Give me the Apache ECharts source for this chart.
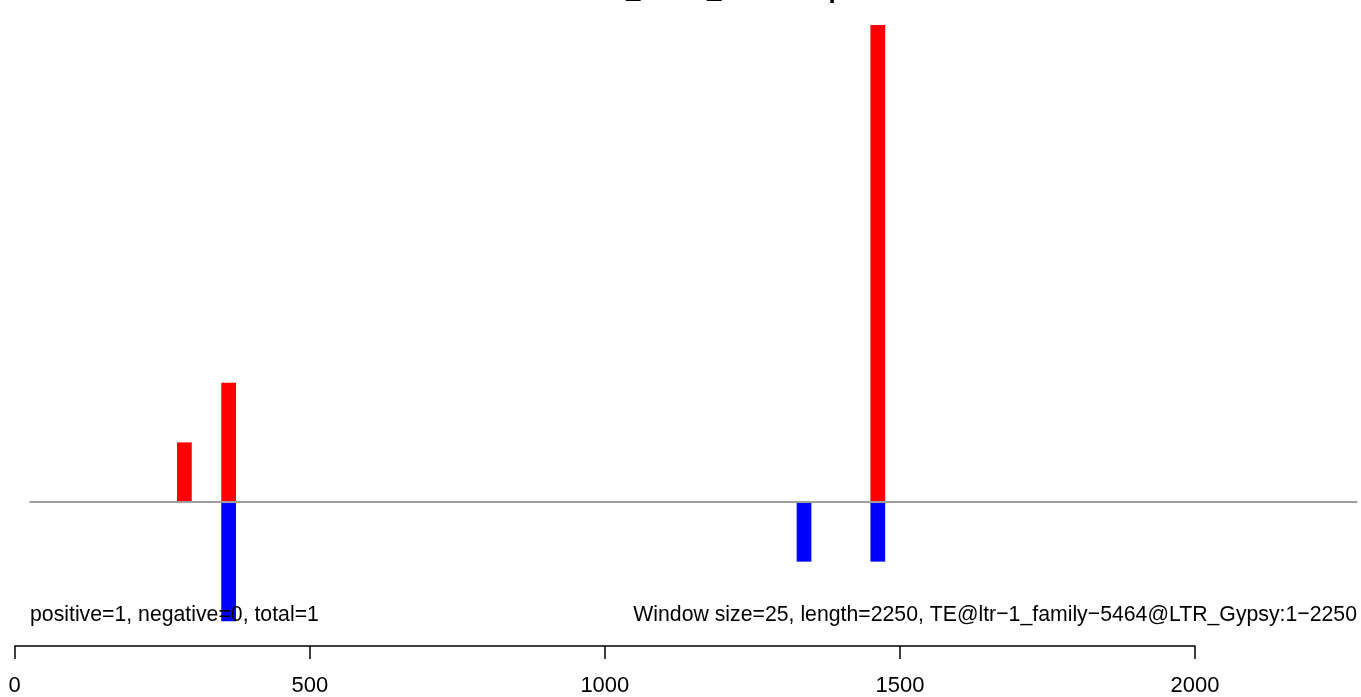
<!DOCTYPE html>
<html>
<head>
<meta charset="utf-8">
<script src="https://cdn.jsdelivr.net/npm/echarts@6/dist/echarts.min.js"></script>
<style>
html,body{margin:0;padding:0;background:#fff;}
#chart{width:1361px;height:697px;}
</style>
</head>
<body>
<div id="chart"></div>
<script>
// ---- data ----
const windowSize = 25;
const seqLength = 2250;
const positiveStarts = [275, 350, 1450];
const positiveValues = [1, 2, 8];
const negativeStarts = [350, 1325, 1450];
const negativeValues = [-2, -1, -1];
const xTickLabels = [0, 500, 1000, 1500, 2000];
const baselineRange = [25, 2275];
const titleText = 'Mutant12_small_reads in plot';
const leftNote = 'positive=1, negative=0, total=1';
const rightNote = 'Window size=25, length=2250, TE@ltr\u22121_family\u22125464@LTR_Gypsy:1\u22122250';

const FONT = '"Liberation Sans", Arial, Helvetica, sans-serif';
const posData = positiveStarts.map((s, i) => [s, positiveValues[i]]);
const negData = negativeStarts.map((s, i) => [s, negativeValues[i]]);

function renderWin(params, api) {
  const s = api.value(0), v = api.value(1);
  const p1 = api.coord([s, v]);
  const p2 = api.coord([s + windowSize, 0]);
  return {
    type: 'rect',
    shape: {
      x: p1[0], y: Math.min(p1[1], p2[1]),
      width: p2[0] - p1[0], height: Math.abs(p2[1] - p1[1])
    },
    style: { fill: api.visual('color') }
  };
}

const pxPerUnit = (1195 - 14.7) / 2000;
const chart = echarts.init(document.getElementById('chart'), null, { renderer: 'canvas' });
chart.setOption({
  animation: false,
  backgroundColor: '#ffffff',
  grid: [
    { left: 14.7, top: 25, width: 2275 * pxPerUnit, height: 596.25, containLabel: false },
    { left: 14.7, top: 600, width: 2000 * pxPerUnit, height: 46.5, containLabel: false }
  ],
  xAxis: [
    { gridIndex: 0, type: 'value', min: 0, max: 2275, show: false },
    {
      gridIndex: 1, type: 'value', min: 0, max: 2000, interval: 500, position: 'bottom',
      axisLine: { show: true, lineStyle: { color: '#000', width: 1.5 } },
      axisTick: { show: true, length: 13, lineStyle: { color: '#000', width: 1.5 } },
      axisLabel: { show: true, margin: 29, fontSize: 22, color: '#000', fontFamily: FONT,
        formatter: v => xTickLabels.includes(v) ? String(v) : '' },
      splitLine: { show: false }
    }
  ],
  yAxis: [
    { gridIndex: 0, type: 'value', min: -2, max: 8, show: false },
    { gridIndex: 1, type: 'value', min: 0, max: 1, show: false }
  ],
  series: [
    { type: 'custom', xAxisIndex: 0, yAxisIndex: 0, renderItem: renderWin, data: posData,
      itemStyle: { color: '#ff0000' }, z: 2, clip: false, encode: { x: 0, y: 1 } },
    { type: 'custom', xAxisIndex: 0, yAxisIndex: 0, renderItem: renderWin, data: negData,
      itemStyle: { color: '#0000ff' }, z: 2, clip: false, encode: { x: 0, y: 1 } },
    { type: 'line', xAxisIndex: 0, yAxisIndex: 0, data: [[baselineRange[0], 0], [baselineRange[1], 0]],
      symbol: 'none', clip: false, lineStyle: { color: '#9e9e9e', width: 1.8 }, z: 3 }
  ],
  graphic: [
    { type: 'text', x: 30, y: 615, z: 10, scaleY: 1.08,
      style: { text: leftNote, fontSize: 21.25, fontFamily: FONT, fill: '#000',
        align: 'left', verticalAlign: 'middle' } },
    { type: 'text', x: 1357, y: 615, z: 10, scaleY: 1.08,
      style: { text: rightNote, fontSize: 21.25, fontFamily: FONT, fill: '#000',
        align: 'right', verticalAlign: 'middle' } },
    { type: 'text', x: 694, y: -9, z: 10,
      style: { text: titleText, fontSize: 26, fontWeight: 'bold', fontFamily: FONT, fill: '#000',
        align: 'center', verticalAlign: 'middle' } }
  ]
});
</script>
</body>
</html>
